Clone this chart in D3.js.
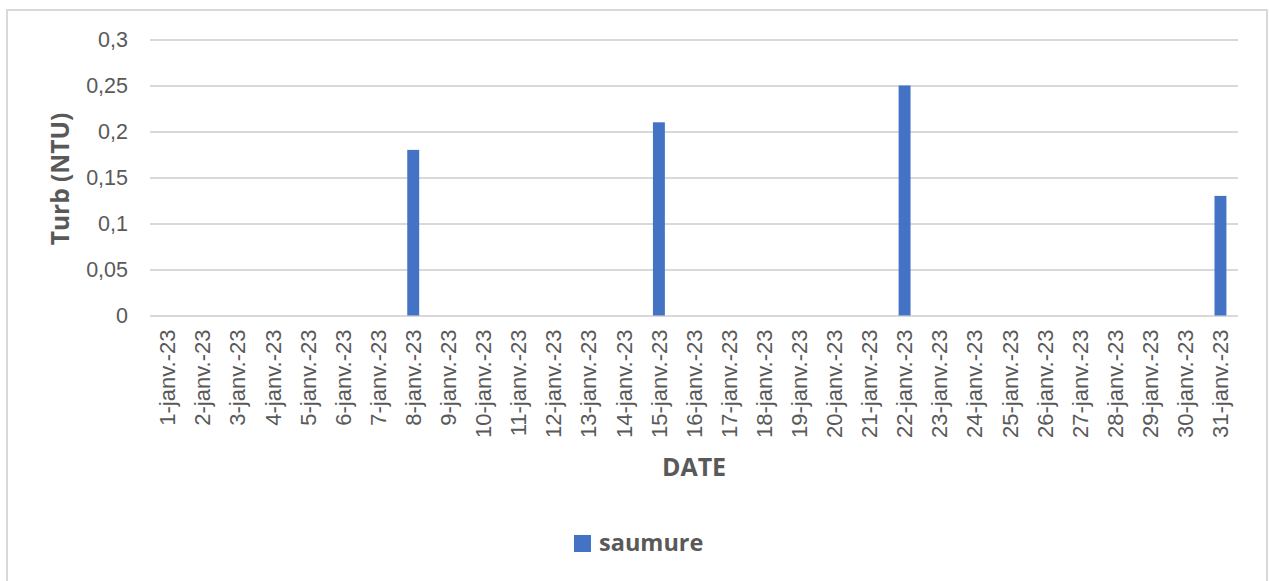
<!DOCTYPE html>
<html>
<head>
<meta charset="utf-8">
<script src="https://cdn.jsdelivr.net/npm/d3@7"></script>
<style>
  html, body { margin: 0; padding: 0; background: #fff; }
  svg { display: block; font-family: "Open Sans", "Noto Sans", sans-serif; }
</style>
</head>
<body>
<svg id="chart" width="1269" height="581"></svg>
<script>
// Daily turbidity readings for January 2023 (only measured days have a bar)
const days = d3.range(1, 32);
const dayLabels = days.map(d => d + "-janv.-23");
const turbValues = [
  0, 0, 0, 0, 0, 0, 0, 0.18, 0, 0,
  0, 0, 0, 0, 0.21, 0, 0, 0, 0, 0,
  0, 0.25, 0, 0, 0, 0, 0, 0, 0, 0,
  0.13
];
const yTicks = [0, 0.05, 0.1, 0.15, 0.2, 0.25, 0.3];
const seriesName = "saumure";

const svg = d3.select("#chart");
const W = 1269, H = 581;
const margin = { left: 150, right: 31, top: 40, bottom: 266 };
const textColor = "#595959";
const gridColor = "#d9d9d9";
const barColor = "#4472c4";

// outer chart frame
svg.append("rect")
  .attr("x", 7).attr("y", 10)
  .attr("width", 1260).attr("height", 590)
  .attr("fill", "#fff")
  .attr("stroke", gridColor).attr("stroke-width", 2);

const x = d3.scaleBand()
  .domain(dayLabels)
  .range([margin.left, W - margin.right])
  .paddingInner(0.66).paddingOuter(0.33);

const y = d3.scaleLinear()
  .domain([0, 0.3])
  .range([H - margin.bottom + 0.5, margin.top - 0.5]);

const fmt = d => String(d).replace(".", ",");

// horizontal gridlines and value labels
const yAxis = svg.append("g")
  .attr("transform", `translate(${margin.left},0)`)
  .call(d3.axisLeft(y).tickValues(yTicks).tickFormat(fmt)
    .tickSize(-(W - margin.right - margin.left)).tickPadding(22));
yAxis.select(".domain").remove();
yAxis.selectAll(".tick line").attr("stroke", gridColor).attr("stroke-width", 2);
yAxis.selectAll(".tick text")
  .attr("fill", textColor).attr("font-size", 21.5);

// bars
svg.append("g").selectAll("rect")
  .data(turbValues.map((v, i) => ({ label: dayLabels[i], value: v })).filter(d => d.value > 0))
  .join("rect")
  .attr("x", d => x(d.label))
  .attr("y", d => y(d.value))
  .attr("width", x.bandwidth())
  .attr("height", d => y(0) - y(d.value))
  .attr("fill", barColor);

// category axis with rotated date labels
const xAxis = svg.append("g")
  .attr("transform", `translate(0,${y(0)})`)
  .call(d3.axisBottom(x).tickSize(0).tickPadding(0));
xAxis.select(".domain").remove();
xAxis.selectAll(".tick text")
  .attr("fill", textColor).attr("font-size", 22)
  .attr("transform", "rotate(-90)")
  .attr("text-anchor", "end")
  .attr("x", -14).attr("y", 0).attr("dy", "0.35em");

// axis titles
svg.append("text")
  .attr("transform", "translate(69,179) rotate(-90)")
  .attr("text-anchor", "middle")
  .attr("font-size", 24.5).attr("font-weight", "bold")
  .attr("fill", textColor)
  .text("Turb (NTU)");

svg.append("text")
  .attr("x", 694).attr("y", 476)
  .attr("text-anchor", "middle")
  .attr("font-size", 25).attr("font-weight", "bold")
  .attr("fill", textColor)
  .text("DATE");

// legend
const legend = svg.append("g").attr("transform", "translate(574,535)");
legend.append("rect").attr("width", 17).attr("height", 17).attr("fill", barColor);
legend.append("text")
  .attr("x", 25).attr("y", 16)
  .attr("font-size", 23.5).attr("font-weight", "bold")
  .attr("fill", textColor)
  .text(seriesName);
</script>
</body>
</html>
